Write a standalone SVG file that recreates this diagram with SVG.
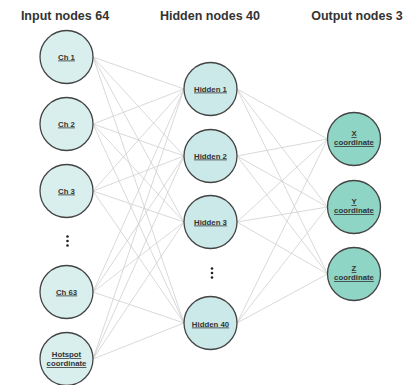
<svg xmlns="http://www.w3.org/2000/svg" width="406" height="385" viewBox="0 0 406 385">
<style>
.hdr{font-family:"Liberation Sans",Arial,sans-serif;font-weight:bold;font-size:12.5px;fill:#333;text-anchor:middle}
.lbl{font-family:"Liberation Sans",Arial,sans-serif;font-weight:bold;font-size:7.8px;fill:#333;text-anchor:middle;text-decoration:underline}
.in{fill:#d8efee;stroke:#444;stroke-width:1.3}
.hid{fill:#cbe9e9;stroke:#444;stroke-width:1.3}
.out{fill:#8fd5c5;stroke:#444;stroke-width:1.3}
.c line{stroke:#cfcfcf;stroke-width:0.8}
.dot{fill:#222}
</style>
<rect width="406" height="385" fill="#fff"/>
<text class="hdr" x="65" y="20">Input nodes 64</text>
<text class="hdr" x="210" y="20">Hidden nodes 40</text>
<text class="hdr" x="357" y="20">Output nodes 3</text>
<g id="connectors" class="c">
<line x1="93" y1="57" x2="184" y2="89"/><line x1="93" y1="57" x2="184" y2="156"/><line x1="93" y1="57" x2="184" y2="222"/><line x1="93" y1="57" x2="184" y2="323"/>
<line x1="93" y1="124" x2="184" y2="89"/><line x1="93" y1="124" x2="184" y2="156"/><line x1="93" y1="124" x2="184" y2="222"/><line x1="93" y1="124" x2="184" y2="323"/>
<line x1="93" y1="191" x2="184" y2="89"/><line x1="93" y1="191" x2="184" y2="156"/><line x1="93" y1="191" x2="184" y2="222"/><line x1="93" y1="191" x2="184" y2="323"/>
<line x1="93" y1="292" x2="184" y2="89"/><line x1="93" y1="292" x2="184" y2="156"/><line x1="93" y1="292" x2="184" y2="222"/><line x1="93" y1="292" x2="184" y2="323"/>
<line x1="93" y1="359" x2="184" y2="89"/><line x1="93" y1="359" x2="184" y2="156"/><line x1="93" y1="359" x2="184" y2="222"/><line x1="93" y1="359" x2="184" y2="323"/>
<line x1="237" y1="89" x2="327.5" y2="139"/><line x1="237" y1="89" x2="327.5" y2="207"/><line x1="237" y1="89" x2="327.5" y2="274"/>
<line x1="237" y1="156" x2="327.5" y2="139"/><line x1="237" y1="156" x2="327.5" y2="207"/><line x1="237" y1="156" x2="327.5" y2="274"/>
<line x1="237" y1="222" x2="327.5" y2="139"/><line x1="237" y1="222" x2="327.5" y2="207"/><line x1="237" y1="222" x2="327.5" y2="274"/>
<line x1="237" y1="323" x2="327.5" y2="139"/><line x1="237" y1="323" x2="327.5" y2="207"/><line x1="237" y1="323" x2="327.5" y2="274"/>
</g>
<g id="ch1"><circle class="in" cx="66.5" cy="57" r="26.5"/><text class="lbl" x="66.5" y="59.5">Ch 1</text></g>
<g id="ch2"><circle class="in" cx="66.5" cy="124" r="26.5"/><text class="lbl" x="66.5" y="126.5">Ch 2</text></g>
<g id="ch3"><circle class="in" cx="66.5" cy="191" r="26.5"/><text class="lbl" x="66.5" y="193.5">Ch 3</text></g>
<g id="input-dots"><circle class="dot" cx="67.5" cy="236.5" r="1.3"/><circle class="dot" cx="67.5" cy="241" r="1.3"/><circle class="dot" cx="67.5" cy="245.5" r="1.3"/></g>
<g id="ch63"><circle class="in" cx="66.5" cy="292" r="26.5"/><text class="lbl" x="66.5" y="294.5">Ch 63</text></g>
<g id="hotspot"><circle class="in" cx="66.5" cy="359" r="26.5"/><text class="lbl" x="66.5" y="357">Hotspot</text><text class="lbl" x="66.5" y="366">coordinate</text></g>
<g id="hidden1"><circle class="hid" cx="210.5" cy="89" r="26.5"/><text class="lbl" x="210.5" y="91.5">Hidden 1</text></g>
<g id="hidden2"><circle class="hid" cx="210.5" cy="156" r="26.5"/><text class="lbl" x="210.5" y="158.5">Hidden 2</text></g>
<g id="hidden3"><circle class="hid" cx="210.5" cy="222" r="26.5"/><text class="lbl" x="210.5" y="224.5">Hidden 3</text></g>
<g id="hidden-dots"><circle class="dot" cx="212" cy="268.5" r="1.3"/><circle class="dot" cx="212" cy="273" r="1.3"/><circle class="dot" cx="212" cy="277.5" r="1.3"/></g>
<g id="hidden40"><circle class="hid" cx="210.5" cy="323" r="26.5"/><text class="lbl" x="210.5" y="326.5">Hidden 40</text></g>
<g id="outX"><circle class="out" cx="354" cy="139" r="26.5"/><text class="lbl" x="354" y="136">X</text><text class="lbl" x="354" y="145">coordinate</text></g>
<g id="outY"><circle class="out" cx="354" cy="207" r="26.5"/><text class="lbl" x="354" y="204">Y</text><text class="lbl" x="354" y="213">coordinate</text></g>
<g id="outZ"><circle class="out" cx="354" cy="274" r="26.5"/><text class="lbl" x="354" y="271">Z</text><text class="lbl" x="354" y="280">coordinate</text></g>
</svg>
